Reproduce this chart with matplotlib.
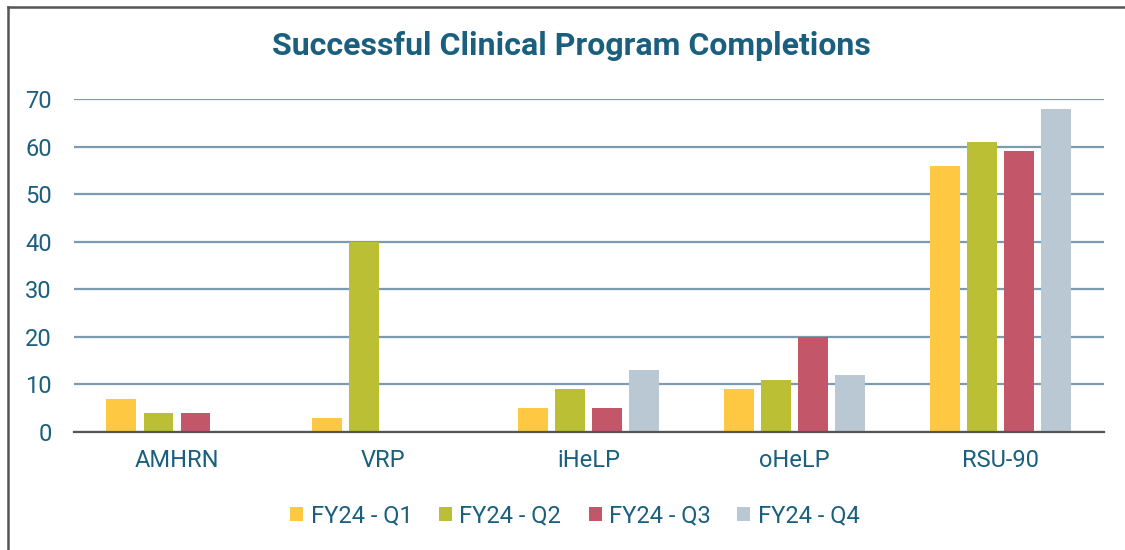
import numpy as np
import matplotlib
matplotlib.use('Agg')
import matplotlib.pyplot as plt
from matplotlib.lines import Line2D
from matplotlib.patches import Patch

# dados
programs = ['AMHRN', 'VRP', 'iHeLP', 'oHeLP', 'RSU-90']
quarters = ['FY24 - Q1', 'FY24 - Q2', 'FY24 - Q3', 'FY24 - Q4']
q1 = [7, 3, 5, 9, 56]
q2 = [4, 40, 9, 11, 61]
q3 = [4, 0, 5, 20, 59]
q4 = [0, 0, 13, 12, 68]
colors = ['#FFC843', '#BBBF33', '#C4566A', '#BAC8D3']

text_color = '#1A5F7E'
plt.rcParams['font.family'] = ['Roboto', 'DejaVu Sans']

fig = plt.figure(figsize=(11.25, 5.5), dpi=100)
ax = fig.add_axes([0.0658, 0.2145, 0.9152, 0.6055])

x = np.arange(len(programs))
width = 0.145
step = 0.18
series = [q1, q2, q3, q4]
for i, vals in enumerate(series):
    ax.bar(x + (i - 1.5) * step, vals, width=width, color=colors[i],
           label=quarters[i], zorder=3)

ax.set_xlim(-0.5, len(programs) - 0.5)
ax.set_ylim(0, 70)
ax.set_yticks(range(0, 71, 10))
ax.set_xticks(x)
ax.set_xticklabels(programs)
ax.grid(axis='y', color='#7C9AB0', linewidth=1.6, zorder=0)
for s in ['top', 'right', 'left']:
    ax.spines[s].set_visible(False)
ax.spines['bottom'].set_color('#555555')
ax.spines['bottom'].set_linewidth(1.6)
ax.spines['bottom'].set_zorder(4)
ax.tick_params(axis='both', length=0, labelsize=17, labelcolor=text_color)
ax.tick_params(axis='y', pad=16)
ax.tick_params(axis='x', pad=12)

fig.text(0.5076, 0.916, 'Successful Clinical Program Completions', ha='center',
         va='center', fontsize=23, fontweight='bold', color=text_color)

handles = [Patch(facecolor=c, edgecolor='none') for c in colors]
fig.legend(handles, quarters, loc='center', bbox_to_anchor=(0.511, 0.062),
           ncol=4, frameon=False, fontsize=17, labelcolor=text_color,
           handlelength=0.55, handleheight=0.55, handletextpad=0.3,
           columnspacing=1.15)

# moldura (só topo e esquerda visíveis)
fig.add_artist(Line2D([0.0075, 0.0075], [0, 0.987], color='#555555', lw=1.8))
fig.add_artist(Line2D([0.0075, 1.0], [0.987, 0.987], color='#555555', lw=1.8))

fig.savefig('out.png', dpi=100)
